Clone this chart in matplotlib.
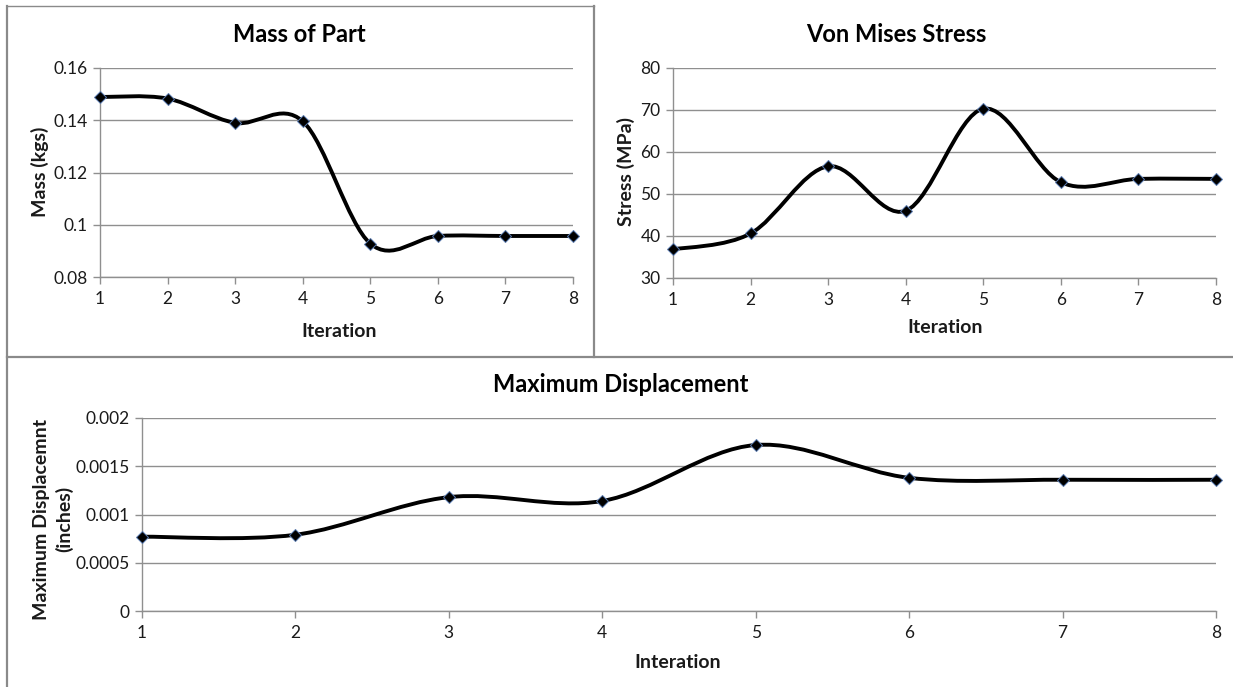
import numpy as np
import matplotlib
matplotlib.use("Agg")
import matplotlib.pyplot as plt
from matplotlib.path import Path
from matplotlib.patches import PathPatch
from matplotlib.lines import Line2D

plt.rcParams['font.family'] = ['Lato', 'DejaVu Sans']

# ---- data ----
iterations = [1, 2, 3, 4, 5, 6, 7, 8]
mass_kgs = [0.1489, 0.1483, 0.1390, 0.1396, 0.0928, 0.0957, 0.0957, 0.0957]
stress_mpa = [36.8, 40.6, 56.6, 46.0, 70.3, 52.8, 53.6, 53.6]
displacement_in = [0.00077, 0.00079, 0.00118, 0.00114, 0.00172, 0.00138, 0.00136, 0.00136]

mass_ticks = [0.08, 0.1, 0.12, 0.14, 0.16]
mass_tick_labels = ["0.08", "0.1", "0.12", "0.14", "0.16"]
stress_ticks = [30, 40, 50, 60, 70, 80]
disp_ticks = [0, 0.0005, 0.001, 0.0015, 0.002]
disp_tick_labels = ["0", "0.0005", "0.001", "0.0015", "0.002"]

W, H = 1233, 687
fig = plt.figure(figsize=(W / 100, H / 100), dpi=100)
fig.patch.set_facecolor("white")

GRID = "#8f8f8f"
TEXT = "#1a1a1a"
TICK_FS = 12.5
LABEL_FS = 14
TITLE_FS = 17


def px_axes(x0, y0, x1, y1):
    """Axes from pixel box (top-left origin)."""
    return fig.add_axes([x0 / W, 1 - y1 / H, (x1 - x0) / W, (y1 - y0) / H])


def smooth_path(xs, ys):
    """Catmull-Rom style Bezier through the points (spreadsheet smoothed line)."""
    xs = np.asarray(xs, float)
    ys = np.asarray(ys, float)
    px = np.concatenate([[xs[0]], xs, [xs[-1]]])
    py = np.concatenate([[ys[0]], ys, [ys[-1]]])
    verts = [(xs[0], ys[0])]
    codes = [Path.MOVETO]
    for i in range(1, len(px) - 2):
        c1 = (px[i] + (px[i + 1] - px[i - 1]) / 6, py[i] + (py[i + 1] - py[i - 1]) / 6)
        c2 = (px[i + 1] - (px[i + 2] - px[i]) / 6, py[i + 1] - (py[i + 2] - py[i]) / 6)
        verts += [c1, c2, (px[i + 1], py[i + 1])]
        codes += [Path.CURVE4] * 3
    return Path(verts, codes)


def style_axes(ax, ylim, yticks, ylabels):
    ax.set_xlim(1, 8)
    ax.set_ylim(*ylim)
    ax.set_xticks(iterations)
    ax.set_xticklabels([str(i) for i in iterations])
    ax.set_yticks(yticks)
    ax.set_yticklabels(ylabels)
    ax.grid(axis="y", color=GRID, lw=1.0)
    ax.set_axisbelow(True)
    for s in ["top", "right"]:
        ax.spines[s].set_visible(False)
    for s in ["left", "bottom"]:
        ax.spines[s].set_color(GRID)
        ax.spines[s].set_linewidth(1.0)
    ax.tick_params(axis="both", colors=GRID, labelcolor=TEXT, labelsize=TICK_FS,
                   length=5, width=1.0, direction="out")
    ax.tick_params(axis="x", pad=5)
    ax.tick_params(axis="y", pad=4)


def draw_series(ax, ys):
    ax.add_patch(PathPatch(smooth_path(iterations, ys), fill=False, lw=2.8,
                           edgecolor="black", capstyle="round", joinstyle="round",
                           zorder=3))
    ax.plot(iterations, ys, ls="none", marker="D", ms=6, mfc="black",
            mec="#5a7bb0", mew=0.7, zorder=4, clip_on=False)


# ---- Mass of Part ----
ax1 = px_axes(100, 68, 573, 277)
style_axes(ax1, (0.08, 0.16), mass_ticks, mass_tick_labels)
draw_series(ax1, mass_kgs)
fig.text(299 / W, 1 - 34 / H, "Mass of Part", ha="center", va="center",
         fontsize=TITLE_FS, fontweight="bold", color="black")
fig.text(339 / W, 1 - 331 / H, "Iteration", ha="center", va="center",
         fontsize=LABEL_FS, fontweight="bold", color=TEXT)
fig.text(40 / W, 1 - 172 / H, "Mass (kgs)", ha="center", va="center",
         rotation=90, fontsize=LABEL_FS, fontweight="bold", color=TEXT)

# ---- Von Mises Stress ----
ax2 = px_axes(673, 68, 1216, 278)
style_axes(ax2, (30, 80), stress_ticks, [str(t) for t in stress_ticks])
draw_series(ax2, stress_mpa)
fig.text(896 / W, 1 - 34 / H, "Von Mises Stress", ha="center", va="center",
         fontsize=TITLE_FS, fontweight="bold", color="black")
fig.text(945 / W, 1 - 328 / H, "Iteration", ha="center", va="center",
         fontsize=LABEL_FS, fontweight="bold", color=TEXT)
fig.text(626 / W, 1 - 172 / H, "Stress (MPa)", ha="center", va="center",
         rotation=90, fontsize=LABEL_FS, fontweight="bold", color=TEXT)

# ---- Maximum Displacement ----
ax3 = px_axes(142, 418, 1216, 611)
style_axes(ax3, (0, 0.002), disp_ticks, disp_tick_labels)
draw_series(ax3, displacement_in)
fig.text(621 / W, 1 - 385 / H, "Maximum Displacement", ha="center", va="center",
         fontsize=TITLE_FS, fontweight="bold", color="black")
fig.text(678 / W, 1 - 663 / H, "Interation", ha="center", va="center",
         fontsize=LABEL_FS, fontweight="bold", color=TEXT)
fig.text(53 / W, 1 - 519 / H, "Maximum Displacemnt\n(inches)", ha="center",
         va="center", rotation=90, fontsize=LABEL_FS, fontweight="bold", color=TEXT,
         linespacing=1.3)

# ---- chart frame borders ----
BORDER = "#8a8a8a"
def fig_line(x0, y0, x1, y1, lw=1.6):
    fig.add_artist(Line2D([x0 / W, x1 / W], [1 - y0 / H, 1 - y1 / H],
                          color=BORDER, lw=lw, transform=fig.transFigure))

fig_line(6.5, 6, 6.5, 687)
fig_line(6.5, 6, 594, 6, lw=1.0)
fig_line(594, 6, 594, 357)
fig_line(6.5, 357, 1233, 357)

fig.savefig("out.png", dpi=100, facecolor="white")
